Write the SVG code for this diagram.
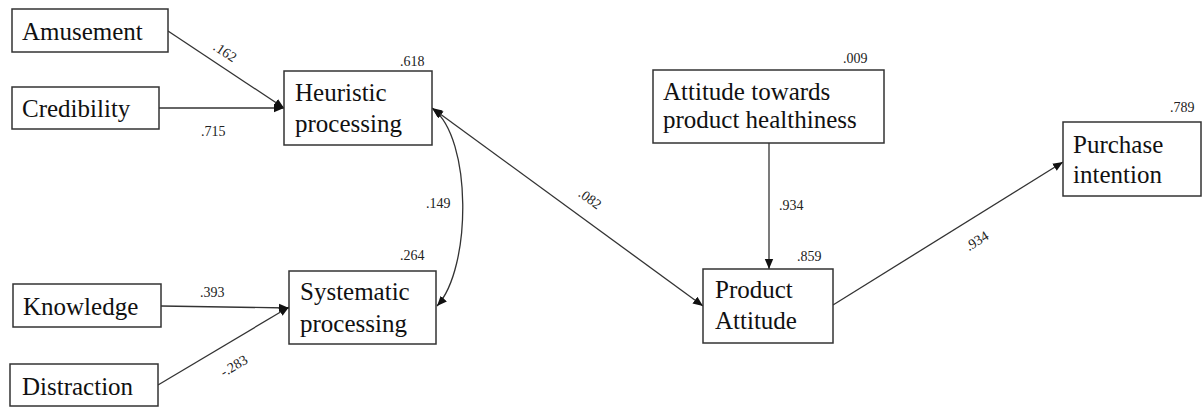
<svg xmlns="http://www.w3.org/2000/svg" width="1202" height="407" viewBox="0 0 1202 407">
  <style>
    .box { fill: #ffffff; stroke: #333333; stroke-width: 1.5; }
    .lbl { font-family: 'Liberation Serif', Tinos, 'Times New Roman', 'DejaVu Serif', serif; font-size: 25px; fill: #111111; }
    .num { font-family: 'Liberation Serif', Tinos, 'Times New Roman', 'DejaVu Serif', serif; font-size: 14px; fill: #222222; }
    .edge { fill: none; stroke: #333333; stroke-width: 1.3; }
  </style>
  <defs>
    <marker id="arrow" viewBox="0 0 10 10" refX="10" refY="5" markerWidth="10" markerHeight="10" markerUnits="userSpaceOnUse" orient="auto-start-reverse">
      <path d="M0,0.8 L10,5 L0,9.2 Z" fill="#111111"/>
    </marker>
  </defs>
  <rect width="1202" height="407" fill="#ffffff"/>

  <!-- connectors -->
  <g id="connectors">
    <line class="edge" x1="168" y1="31" x2="284" y2="108" marker-end="url(#arrow)"/>
    <line class="edge" x1="159" y1="108" x2="284" y2="108" marker-end="url(#arrow)"/>
    <line class="edge" x1="161" y1="306" x2="289" y2="308" marker-end="url(#arrow)"/>
    <line class="edge" x1="158" y1="385" x2="289" y2="307" marker-end="url(#arrow)"/>
    <path class="edge" d="M433,109 C472,138 472,268 437,306" marker-start="url(#arrow)" marker-end="url(#arrow)"/>
    <line class="edge" x1="432" y1="108" x2="703" y2="306" marker-start="url(#arrow)" marker-end="url(#arrow)"/>
    <line class="edge" x1="769" y1="143" x2="769" y2="269" marker-end="url(#arrow)"/>
    <line class="edge" x1="833" y1="305" x2="1063" y2="162" marker-end="url(#arrow)"/>

    <text class="num" text-anchor="middle" dominant-baseline="central" transform="translate(225,52) rotate(33.6)">.162</text>
    <text class="num" x="201" y="136">.715</text>
    <text class="num" x="200" y="297">.393</text>
    <text class="num" text-anchor="middle" dominant-baseline="central" transform="translate(234,366) rotate(-30.8)">-.283</text>
    <text class="num" x="426" y="208">.149</text>
    <text class="num" text-anchor="middle" dominant-baseline="central" transform="translate(590,199) rotate(36.2)">.082</text>
    <text class="num" x="779" y="210">.934</text>
    <text class="num" text-anchor="middle" dominant-baseline="central" transform="translate(977,241) rotate(-31.6)">.934</text>
  </g>

  <g id="amusement">
    <rect class="box" x="12" y="9" width="156" height="43"/>
    <text class="lbl" x="22" y="40">Amusement</text>
  </g>

  <g id="credibility">
    <rect class="box" x="12" y="87" width="147" height="42"/>
    <text class="lbl" x="22" y="117">Credibility</text>
  </g>

  <g id="heuristic">
    <rect class="box" x="284" y="71" width="148" height="74"/>
    <text class="lbl" x="295" y="101">Heuristic</text>
    <text class="lbl" x="295" y="132">processing</text>
    <text class="num" x="400" y="66">.618</text>
  </g>

  <g id="knowledge">
    <rect class="box" x="13" y="284" width="148" height="43"/>
    <text class="lbl" x="23" y="315">Knowledge</text>
  </g>

  <g id="distraction">
    <rect class="box" x="10" y="364" width="148" height="42"/>
    <text class="lbl" x="22" y="395">Distraction</text>
  </g>

  <g id="systematic">
    <rect class="box" x="289" y="271" width="147" height="73"/>
    <text class="lbl" x="300" y="300">Systematic</text>
    <text class="lbl" x="300" y="332">processing</text>
    <text class="num" x="400" y="260">.264</text>
  </g>

  <g id="healthiness">
    <rect class="box" x="653" y="70" width="231" height="73"/>
    <text class="lbl" x="663" y="100">Attitude towards</text>
    <text class="lbl" x="663" y="128">product healthiness</text>
    <text class="num" x="843" y="63">.009</text>
  </g>

  <g id="product-attitude">
    <rect class="box" x="703" y="269" width="130" height="74"/>
    <text class="lbl" x="715" y="298">Product</text>
    <text class="lbl" x="715" y="329">Attitude</text>
    <text class="num" x="797" y="261">.859</text>
  </g>

  <g id="purchase">
    <rect class="box" x="1063" y="122" width="138" height="74"/>
    <text class="lbl" x="1073" y="153">Purchase</text>
    <text class="lbl" x="1073" y="183">intention</text>
    <text class="num" x="1170" y="112">.789</text>
  </g>
</svg>
